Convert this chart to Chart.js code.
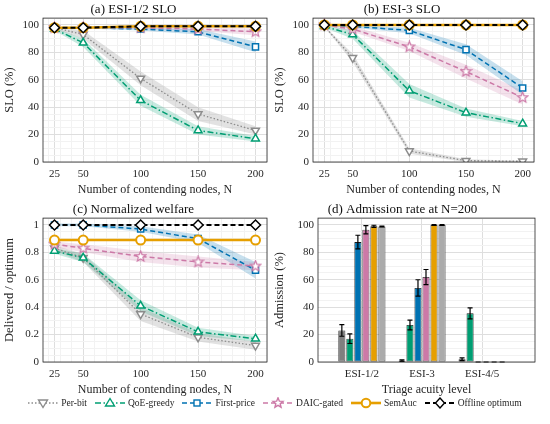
<!DOCTYPE html>
<html>
<head>
<meta charset="utf-8">
<script src="https://cdn.jsdelivr.net/npm/chart.js@4.4.1/dist/chart.umd.min.js"></script>
<style>
  body { margin: 0; width: 550px; height: 424px; background: #fff; position: relative; overflow: hidden; }
  canvas { position: absolute; }
  #legend { position: absolute; left: 0; top: 397px; width: 550px; display: flex; justify-content: center; align-items: center;
            font-family: "Liberation Serif", serif; font-size: 9.5px; color: #262626; }
  #legend .item { display: flex; align-items: center; margin: 0 4px; }
  #legend svg { margin-right: 3px; }
</style>
</head>
<body>
<canvas id="slo12" width="275" height="200" style="left:0;top:0"></canvas>
<canvas id="slo3" width="280" height="200" style="left:270px;top:0"></canvas>
<canvas id="welfare" width="275" height="200" style="left:0;top:200px"></canvas>
<canvas id="admission" width="280" height="200" style="left:270px;top:200px"></canvas>
<div id="legend"></div>
<script>
const nodes = [25, 50, 100, 150, 200];
const methods = ['Per-bit', 'QoE-greedy', 'First-price', 'DAIC-gated', 'SemAuc', 'Offline optimum'];
const acuityLevels = ['ESI-1/2', 'ESI-3', 'ESI-4/5'];

// (a) ESI-1/2 SLO (%), one row per method, and the half width of the shaded band
const sloEsi12 = [
  [98, 93, 61, 35, 23],
  [97, 87, 45, 23, 17],
  [98, 98, 97, 95, 84],
  [98, 98, 98, 97, 95],
  [98, 98, 99, 99, 99],
  [98, 98, 99, 99, 99]
];
const sloEsi12Spread = [
  [1, 3, 5, 5, 3],
  [1, 3, 4, 3, 2],
  [0.5, 0.5, 1, 2, 4],
  [0.5, 0.5, 1, 1.5, 2.5],
  [0, 0, 0, 0, 0],
  [0, 0, 0, 0, 0]
];

// (b) ESI-3 SLO (%)
const sloEsi3 = [
  [99, 76, 8, 1, 0.5],
  [99, 93, 52, 36, 28],
  [100, 99, 96, 82, 54],
  [100, 97, 84, 66, 47],
  [100, 100, 100, 100, 100],
  [100, 100, 100, 100, 100]
];
const sloEsi3Spread = [
  [0.5, 3, 2, 1, 0.5],
  [1, 3, 5, 3, 2],
  [0.5, 1, 2, 4, 5],
  [0.5, 2, 3, 5, 5],
  [0, 0, 0, 0, 0],
  [0, 0, 0, 0, 0]
];

// (c) delivered welfare / optimum
const welfare = [
  [0.83, 0.76, 0.35, 0.18, 0.12],
  [0.81, 0.76, 0.41, 0.22, 0.17],
  [1.0, 1.0, 0.97, 0.9, 0.67],
  [0.86, 0.83, 0.77, 0.73, 0.70],
  [0.89, 0.89, 0.89, 0.89, 0.89],
  [1.0, 1.0, 1.0, 1.0, 1.0]
];
const welfareSpread = [
  [0.02, 0.03, 0.05, 0.03, 0.03],
  [0.02, 0.03, 0.04, 0.03, 0.02],
  [0.01, 0.01, 0.02, 0.03, 0.06],
  [0.02, 0.03, 0.04, 0.04, 0.03],
  [0, 0, 0, 0, 0],
  [0, 0, 0, 0, 0]
];

// (d) admission rate (%) at N=200 per acuity level, with error bars
const admission = [
  [23, 1, 2],
  [17, 27, 35.5],
  [87.5, 54, 0],
  [96.5, 62, 0],
  [99, 100, 0],
  [98.8, 100, 0]
];
const admissionErr = [
  [4.2, 0.5, 1],
  [3.5, 3.5, 4],
  [5, 6, 0],
  [3, 5.5, 0],
  [0.8, 0.3, 0],
  [0.3, 0.3, 0]
];

const lineStyles = [
  { color: '#8c8c8c', band: 'rgba(140,140,140,0.25)', dash: [1.5, 2], width: 1.3, point: 'triangle', rot: 180, r: 4.5 },
  { color: '#009E73', band: 'rgba(0,158,115,0.22)', dash: [6, 2.5, 1.5, 2.5], width: 1.5, point: 'triangle', rot: 0, r: 4.5 },
  { color: '#0072B2', band: 'rgba(0,114,178,0.22)', dash: [5, 3], width: 1.5, point: 'rect', rot: 0, r: 4.3 },
  { color: '#CC79A7', band: 'rgba(204,121,167,0.22)', dash: [5, 3], width: 1.5, point: 'star', rot: 0, r: 4.5 },
  { color: '#E69F00', band: 'rgba(230,159,0,0.2)', dash: [], width: 2.6, point: 'circle', rot: 0, r: 4.5 },
  { color: '#000000', band: 'rgba(0,0,0,0.15)', dash: [5, 3], width: 2, point: 'rectRot', rot: 0, r: 5 }
];
const barColors = ['#7f7f7f', '#009E73', '#0072B2', '#CC79A7', '#E69F00', '#ababab'];

Chart.defaults.font.family = '"Liberation Serif", "Times New Roman", serif';
Chart.defaults.color = '#262626';

function starImage(color) {
  const c = document.createElement('canvas');
  c.width = c.height = 13;
  const g = c.getContext('2d');
  g.beginPath();
  for (let k = 0; k < 10; k++) {
    const rad = k % 2 ? 2.4 : 5.5;
    const a = -Math.PI / 2 + k * Math.PI / 5;
    g.lineTo(6.5 + rad * Math.cos(a), 6.5 + rad * Math.sin(a));
  }
  g.closePath();
  g.fillStyle = '#fff';
  g.fill();
  g.strokeStyle = color;
  g.lineWidth = 1.2;
  g.stroke();
  return c;
}

// box around the plot area, MATLAB style
const framePlugin = {
  id: 'frame',
  afterDraw(chart) {
    const { ctx, chartArea: a } = chart;
    ctx.save();
    ctx.strokeStyle = '#262626';
    ctx.lineWidth = 0.8;
    ctx.strokeRect(a.left, a.top, a.right - a.left, a.bottom - a.top);
    ctx.restore();
  }
};

const errorBarPlugin = {
  id: 'errorBars',
  afterDatasetsDraw(chart) {
    const { ctx } = chart;
    const y = chart.scales.y;
    ctx.save();
    ctx.strokeStyle = '#000';
    ctx.lineWidth = 1.2;
    admission.forEach((row, i) => {
      chart.getDatasetMeta(i).data.forEach((bar, j) => {
        const top = y.getPixelForValue(row[j] + admissionErr[i][j]);
        const bot = y.getPixelForValue(Math.max(0, row[j] - admissionErr[i][j]));
        ctx.beginPath();
        ctx.moveTo(bar.x, top); ctx.lineTo(bar.x, bot);
        ctx.moveTo(bar.x - 2.5, top); ctx.lineTo(bar.x + 2.5, top);
        ctx.moveTo(bar.x - 2.5, bot); ctx.lineTo(bar.x + 2.5, bot);
        ctx.stroke();
      });
    });
    ctx.restore();
  }
};

function gridColor(ctx) {
  return ctx.tick && ctx.tick.major ? '#dedede' : '#f2f2f2';
}

function yAxis(title, yMax, step, minor, digits, width) {
  return {
    min: 0, max: yMax,
    afterBuildTicks(scale) {
      const t = [];
      for (let k = 0; k * minor <= yMax + 1e-9; k++) {
        const v = +(k * minor).toFixed(4);
        t.push({ value: v, major: Math.abs(v / step - Math.round(v / step)) < 1e-6 });
      }
      scale.ticks = t;
    },
    afterFit(scale) { scale.width = width; },
    grid: { color: gridColor, drawTicks: false },
    border: { display: false },
    ticks: {
      padding: 4, font: { size: 11 }, autoSkip: false,
      callback(v, i, ticks) { return ticks[i].major ? (digits ? +v.toFixed(digits) + '' : v) : ''; }
    },
    title: { display: true, text: title, font: { size: 12.5 }, padding: { top: 2, bottom: 0 } }
  };
}

function lineChart(id, values, spread, title, yTitle, yMax, step, minor, digits, padRight) {
  const datasets = [];
  values.forEach((row, i) => {
    if (spread[i].some(v => v > 0)) {
      const lowIndex = datasets.length;
      datasets.push({
        data: nodes.map((n, j) => ({ x: n, y: row[j] - spread[i][j] })),
        borderWidth: 0, pointRadius: 0, fill: false, order: 20
      });
      datasets.push({
        data: nodes.map((n, j) => ({ x: n, y: row[j] + spread[i][j] })),
        borderWidth: 0, pointRadius: 0, backgroundColor: lineStyles[i].band,
        fill: { target: lowIndex }, order: 20
      });
    }
  });
  values.forEach((row, i) => {
    const s = lineStyles[i];
    datasets.push({
      label: methods[i],
      data: nodes.map((n, j) => ({ x: n, y: row[j] })),
      borderColor: s.color, borderWidth: s.width, borderDash: s.dash,
      pointStyle: s.point === 'star' ? starImage(s.color) : s.point,
      pointRotation: s.rot, pointRadius: s.r,
      pointBorderColor: s.color, pointBackgroundColor: '#fff',
      pointBorderWidth: s.point === 'circle' ? 2 : 1.5,
      fill: false, order: 5 - i
    });
  });
  new Chart(document.getElementById(id), {
    type: 'line',
    data: { datasets },
    plugins: [framePlugin],
    options: {
      responsive: false, animation: false, events: [],
      layout: { padding: { left: 0, right: padRight, top: 0, bottom: 0 } },
      plugins: {
        legend: { display: false }, tooltip: { enabled: false },
        title: { display: true, text: title, font: { size: 13, weight: 'normal' }, color: '#111', padding: { top: 2, bottom: 0.5 } }
      },
      scales: {
        x: {
          type: 'linear', min: 15, max: 210,
          afterBuildTicks(scale) {
            const t = nodes.map(n => ({ value: n, major: true }));
            for (let v = 20; v <= 210; v += 10) if (!nodes.includes(v)) t.push({ value: v, major: false });
            scale.ticks = t.sort((p, q) => p.value - q.value);
          },
          afterFit(scale) { scale.height = 38; },
          grid: { color: gridColor, drawTicks: false },
          border: { display: false },
          ticks: {
            padding: 6, font: { size: 11 }, autoSkip: false, maxRotation: 0,
            callback(v, i, ticks) { return ticks[i].major ? v : ''; }
          },
          title: { display: true, text: 'Number of contending nodes, N', font: { size: 12 }, padding: { top: 0, bottom: 3 } }
        },
        y: yAxis(yTitle, yMax, step, minor, digits, 43)
      }
    }
  });
}

lineChart('slo12', sloEsi12, sloEsi12Spread, '(a) ESI-1/2 SLO', 'SLO (%)', 105, 20, 5, 0, 8);
lineChart('slo3', sloEsi3, sloEsi3Spread, '(b) ESI-3 SLO', 'SLO (%)', 105, 20, 5, 0, 16);
lineChart('welfare', welfare, welfareSpread, '(c) Normalized welfare', 'Delivered / optimum', 1.05, 0.2, 0.05, 1, 8);

new Chart(document.getElementById('admission'), {
  type: 'bar',
  data: {
    datasets: admission.map((row, i) => ({
      label: methods[i],
      data: row.map((v, j) => ({ x: j + 1, y: v })),
      backgroundColor: barColors[i], borderColor: '#1a1a1a', borderWidth: 0.8, borderSkipped: false,
      categoryPercentage: 0.8, barPercentage: 0.88
    }))
  },
  plugins: [framePlugin, errorBarPlugin],
  options: {
    responsive: false, animation: false, events: [],
    layout: { padding: { left: 0, right: 15, top: 0, bottom: 0 } },
    plugins: {
      legend: { display: false }, tooltip: { enabled: false },
      title: { display: true, text: '(d) Admission rate at N=200', font: { size: 13, weight: 'normal' }, color: '#111', padding: { top: 2, bottom: 0.5 } }
    },
    scales: {
      x: {
        type: 'linear', min: 0.27, max: 3.88, offset: false,
        afterBuildTicks(scale) { scale.ticks = acuityLevels.map((l, j) => ({ value: j + 1, major: true })); },
        afterFit(scale) { scale.height = 38; },
        grid: { color: '#dedede', drawTicks: false, offset: false },
        border: { display: false },
        ticks: {
          padding: 6, font: { size: 11 }, autoSkip: false, maxRotation: 0,
          callback(v) { return acuityLevels[Math.round(v) - 1]; }
        },
        title: { display: true, text: 'Triage acuity level', font: { size: 12 }, padding: { top: 0, bottom: 3 } }
      },
      y: yAxis('Admission (%)', 105, 20, 5, 0, 48)
    }
  }
});

// shared legend below the panels
function markerSvg(s) {
  const c = s.color, cx = 15, cy = 6;
  const line = `<line x1="0" y1="${cy}" x2="30" y2="${cy}" stroke="${c}" stroke-width="${s.width}" stroke-dasharray="${s.dash.join(' ')}"/>`;
  let m = '';
  if (s.point === 'triangle') {
    m = s.rot ? `<polygon points="${cx - 4.5},${cy - 3} ${cx + 4.5},${cy - 3} ${cx},${cy + 4.5}"/>`
              : `<polygon points="${cx - 4.5},${cy + 3} ${cx + 4.5},${cy + 3} ${cx},${cy - 4.5}"/>`;
  } else if (s.point === 'rect') {
    m = `<rect x="${cx - 3}" y="${cy - 3}" width="6" height="6"/>`;
  } else if (s.point === 'circle') {
    m = `<circle cx="${cx}" cy="${cy}" r="4.3"/>`;
  } else if (s.point === 'rectRot') {
    m = `<polygon points="${cx},${cy - 5} ${cx + 4.5},${cy} ${cx},${cy + 5} ${cx - 4.5},${cy}"/>`;
  } else {
    const pts = [];
    for (let k = 0; k < 10; k++) {
      const rad = k % 2 ? 2.3 : 5.2, a = -Math.PI / 2 + k * Math.PI / 5;
      pts.push((cx + rad * Math.cos(a)).toFixed(2) + ',' + (cy + rad * Math.sin(a)).toFixed(2));
    }
    m = `<polygon points="${pts.join(' ')}"/>`;
  }
  const bw = s.point === 'circle' ? 2 : 1.4;
  return `<svg width="30" height="12">${line}<g fill="#fff" stroke="${c}" stroke-width="${bw}">${m}</g></svg>`;
}
document.getElementById('legend').innerHTML = methods.map((name, i) =>
  `<span class="item">${markerSvg(lineStyles[i])}<span>${name}</span></span>`).join('');
</script>
</body>
</html>
